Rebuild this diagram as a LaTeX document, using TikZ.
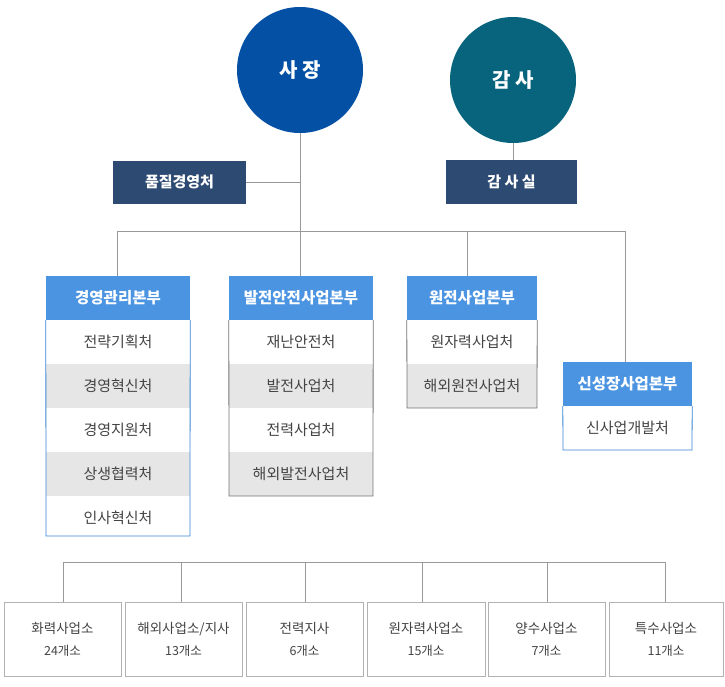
\documentclass[tikz,border=0pt]{standalone}
\usepackage{fontspec}
\setmainfont{Noto Sans CJK KR}
\begin{document}
\begin{tikzpicture}[x=1pt,y=-1pt,
  ln/.style={draw=black!40,line width=0.8pt},
  circ/.style={circle,minimum size=126pt,text=white,font=\fontsize{20}{24}\selectfont\bfseries},
  dbox/.style={fill=dark,text=white,font=\fontsize{15}{18}\selectfont\bfseries,inner sep=0pt},
  hdr/.style={fill=hblue,text=white,font=\fontsize{15.5}{18}\selectfont\bfseries,inner sep=0pt},
  row/.style={text=tx,font=\fontsize{15}{18}\selectfont,inner sep=0pt},
  bot/.style={draw=black!30,fill=white,text=tx,font=\fontsize{13.5}{24}\selectfont,inner sep=0pt,align=center}]
\definecolor{dark}{HTML}{2D4A72}
\definecolor{hblue}{HTML}{4A94E2}
\definecolor{bblue}{HTML}{3A86D4}
\definecolor{tx}{HTML}{444444}
\definecolor{rowg}{HTML}{E6E6E6}
\useasboundingbox (0,0) rectangle (725,686);
\coordinate (b1) at (117,231); \coordinate (b2) at (625,231);
\coordinate (j) at (300,182);
\node[circ,fill={rgb,255:red,4;green,80;blue,165}] (ceo) at (300,70) {사 장};
\node[circ,fill={rgb,255:red,8;green,100;blue,125}] (aud) at (513,80) {감 사};
\node[dbox,minimum width=133pt,minimum height=43pt] (q) at (179.5,182) {품질경영처};
\node[dbox,minimum width=131pt,minimum height=44pt] (as) at (511.5,182) {감 사 실};
\draw[ln] (ceo.south) -- (300,231);
\draw[ln] (q.east) -- (j);
\draw[ln] (aud.south) -- (aud.south |- as.north);
\draw[ln] (b1) -- (b2);
% col1
\foreach \t/\y/\f in {전략기획처/320/white,경영혁신처/364/rowg,경영지원처/408/white,상생협력처/452/rowg,인사혁신처/496/white}{
  \fill[\f] (46,\y) rectangle (190,\y+44);
  \node[row] at (118,\y+22) {\t};}
\node[hdr,minimum width=144pt,minimum height=44pt] (h1) at (118,298) {경영관리본부};
\draw[bblue,line width=0.8pt] (h1.south west) -- (46,536) -- (190,536) -- (h1.south east);
% col2
\foreach \t/\y/\f in {재난안전처/320/white,발전사업처/364/rowg,전력사업처/408/white,해외발전사업처/452/rowg}{
  \fill[\f] (229,\y) rectangle (373,\y+44);
  \node[row] at (301,\y+22) {\t};}
\node[hdr,minimum width=144pt,minimum height=44pt] (h2) at (301,298) {발전안전사업본부};
\draw[black!55,line width=0.8pt] (h2.south west) -- (229,496) -- (373,496) -- (h2.south east);
% col3
\foreach \t/\y/\f in {원자력사업처/320/white,해외원전사업처/364/rowg}{
  \fill[\f] (407,\y) rectangle (537,\y+44);
  \node[row] at (472,\y+22) {\t};}
\node[hdr,minimum width=130pt,minimum height=44pt] (h3) at (472,298) {원전사업본부};
\draw[black!55,line width=0.8pt] (h3.south west) -- (407,408) -- (537,408) -- (h3.south east);
% col4
\node[row] at (627.5,428) {신사업개발처};
\node[hdr,minimum width=129pt,minimum height=44pt] (h4) at (627.5,384) {신성장사업본부};
\draw[bblue,line width=0.8pt] (h4.south west) -- (563,450) -- (692,450) -- (h4.south east);
\draw[ln] (b1) -- (b1 |- h1.north);
\draw[ln] (300,231) -- (300,276);
\draw[ln] (467,231) -- (467,276);
\draw[ln] (b2) -- (b2 |- h4.north);
% bottom
\coordinate (c1) at (63,562); \coordinate (c6) at (665,562);
\draw[ln] (c1) -- (c6);
\foreach \n/\xa/\xb/\cx/\t/\s in {p1/4/121/63/화력사업소/24개소,p2/125/242/181/{해외사업소/지사}/13개소,p3/246/363/305/전력지사/6개소,p4/367/485/422/원자력사업소/15개소,p5/488/605/547/양수사업소/7개소,p6/609/723/665/특수사업소/11개소}{
  \node[bot,minimum width={\xb-\xa},minimum height=74pt] (\n) at ({(\xa+\xb)/2},639) {\t\\[-2pt]{\fontsize{12.5}{15}\selectfont\s}};
  \draw[ln] (\cx,562) -- (\cx,602);}
\end{tikzpicture}
\end{document}
